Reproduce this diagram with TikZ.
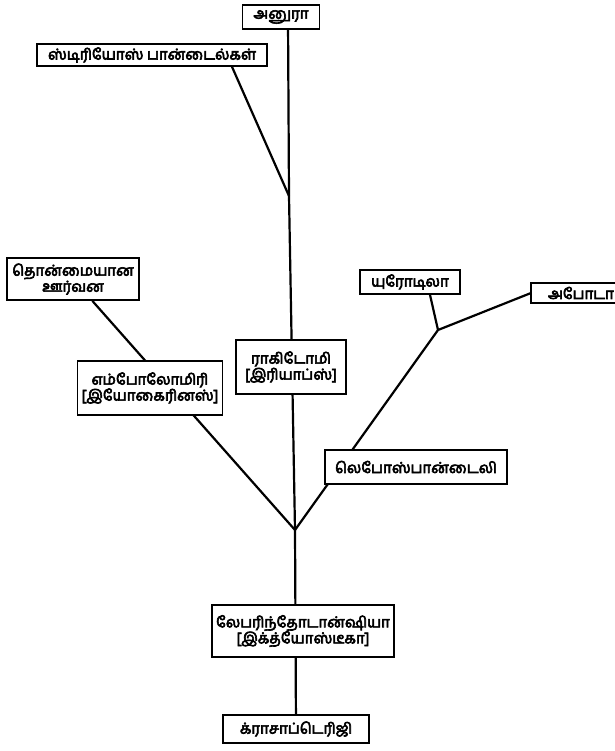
\documentclass[tikz,border=0pt]{standalone}
\usepackage{fontspec}
\newfontfamily\tamilfont[Script=Tamil, FakeBold=4]{Hind Madurai}
\usepackage{tikz}
\usetikzlibrary{backgrounds}

\begin{document}
\begin{tikzpicture}[
    x=1pt, y=-1pt,
    taxon/.style={rectangle, draw, line width=1.8pt, fill=white, align=center, inner sep=2pt, font=\tamilfont\fontsize{15}{16}\selectfont},
    branch/.style={line width=2.2pt},
]
\useasboundingbox (0,0) rectangle (614,751);

% branching points of the tree
\coordinate (top) at (288,20);
\coordinate (stem) at (289,196);
\coordinate (fork) at (438,330);
\coordinate (root) at (295,530);
\coordinate (stereoend) at (229,60);
\coordinate (urodelaend) at (428,286);
\coordinate (apodaend) at (536,291);

\node[taxon, minimum width=77pt, minimum height=24pt] (anura) at (281,17) {அனுரா};
\node[taxon, minimum width=230pt, minimum height=22pt] (stereo) at (152,55) {ஸ்டிரியோஸ் பான்டைல்கள்};
\node[taxon, minimum width=132pt, minimum height=42pt] (reptiles) at (73,279) {தொன்மையான\\ஊர்வன};
\node[taxon, minimum width=145pt, minimum height=54pt] (embol) at (150,388) {எம்போலோமிரி\\{[}இயோகைரினஸ்{]}};
\node[taxon, minimum width=110pt, minimum height=54pt] (rachi) at (291,367) {ராகிடோமி\\{[}இரியாப்ஸ்{]}};
\node[taxon, minimum width=100pt, minimum height=24pt] (urodela) at (410,282) {யுரோடிலா};
\node[taxon, minimum width=100pt, minimum height=20pt, anchor=west] (apoda) at (530,293) {அபோடா};
\node[taxon, minimum width=182pt, minimum height=34pt] (lepo) at (416,467) {லெபோஸ்பான்டைலி};
\node[taxon, minimum width=182pt, minimum height=52pt] (laby) at (303,631) {லேபரிந்தோடான்ஷியா\\{[}இக்த்யோஸ்டீகா{]}};
\node[taxon, minimum width=146pt, minimum height=28pt] (cross) at (296,729) {க்ராசாப்டெரிஜி};

% branches run behind the boxes
\begin{scope}[on background layer]
\draw[branch] (top) -- (stem) -- (root);
\draw[branch] (stereoend) -- (stem);
\draw[branch] (reptiles) -- (root);
\draw[branch] (urodelaend) -- (fork);
\draw[branch] (apodaend) -- (fork);
\draw[branch] (fork) -- (root);
\draw[branch] (root) -- (cross);
\end{scope}
\end{tikzpicture}
\end{document}
